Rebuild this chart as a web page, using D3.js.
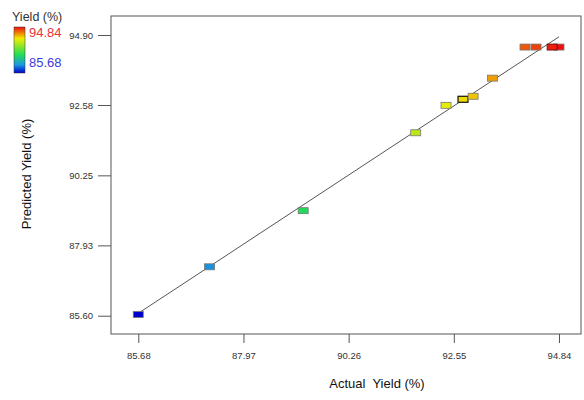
<!DOCTYPE html>
<html>
<head>
<meta charset="utf-8">
<script src="https://cdn.jsdelivr.net/npm/d3@7"></script>
<style>
  body { margin: 0; background: #fff; }
  svg { font-family: "Liberation Sans", Arial, sans-serif; }
</style>
</head>
<body>
<div id="chart"></div>
<script>
// data
const actual    = [85.68, 87.23, 89.27, 91.72, 92.38, 92.75, 92.97, 93.39, 94.10, 94.34, 94.84, 94.69];
const predicted = [85.64, 87.22, 89.08, 91.66, 92.57, 92.77, 92.87, 93.47, 94.50, 94.50, 94.50, 94.50];
const xTicks = [85.68, 87.97, 90.26, 92.55, 94.84];
const yTicks = [85.60, 87.93, 90.25, 92.58, 94.90];
const yieldMin = 85.68, yieldMax = 94.84;

const width = 584, height = 400;
const plot = { left: 111, right: 581, top: 16, bottom: 334 };

const svg = d3.select("#chart").append("svg")
    .attr("width", width)
    .attr("height", height);

const x = d3.scaleLinear().domain([85.086, 95.319]).range([plot.left, plot.right]);
const y = d3.scaleLinear().domain([84.994, 95.529]).range([plot.bottom, plot.top]);

// colour map blue -> light blue -> green -> yellow -> red
const colorPos = [0, 0.18, 0.4, 0.75, 1];
const colorStops = ["#0000cc", "#1a9be0", "#22dd55", "#eeee00", "#ee1010"];
const color = d3.scaleLinear()
    .domain(colorPos.map(t => yieldMin + t * (yieldMax - yieldMin)))
    .range(colorStops);

// frame
svg.append("rect")
    .attr("x", plot.left).attr("y", plot.top)
    .attr("width", plot.right - plot.left).attr("height", plot.bottom - plot.top)
    .attr("fill", "none").attr("stroke", "#555").attr("stroke-width", 1);

// axes
const xAxis = svg.append("g")
    .attr("transform", `translate(0,${plot.bottom})`)
    .call(d3.axisBottom(x).tickValues(xTicks).tickSize(9).tickFormat(d3.format(".2f")));
xAxis.select(".domain").remove();
xAxis.selectAll("line").attr("stroke", "#555");
xAxis.selectAll("text").attr("font-size", "9.5px").attr("fill", "#333").attr("dy", "1.4em");

const yAxis = svg.append("g")
    .attr("transform", `translate(${plot.left},0)`)
    .call(d3.axisLeft(y).tickValues(yTicks).tickSize(13).tickPadding(5).tickFormat(d3.format(".2f")));
yAxis.select(".domain").remove();
yAxis.selectAll("line").attr("stroke", "#555");
yAxis.selectAll("text").attr("font-size", "9.5px").attr("fill", "#333");

// axis titles
svg.append("text")
    .attr("x", 377).attr("y", 388)
    .attr("text-anchor", "middle")
    .attr("font-size", "13px").attr("fill", "#111")
    .attr("xml:space", "preserve")
    .text("Actual  Yield (%)");

svg.append("text")
    .attr("transform", "translate(31,174) rotate(-90)")
    .attr("text-anchor", "middle")
    .attr("font-size", "13px").attr("fill", "#111")
    .text("Predicted Yield (%)");

// y = x reference line
svg.append("line")
    .attr("x1", x(yieldMin)).attr("y1", y(yieldMin))
    .attr("x2", x(yieldMax)).attr("y2", y(yieldMax))
    .attr("stroke", "#555").attr("stroke-width", 1);

// points (small rectangles)
const pts = actual.map((a, i) => ({ a, p: predicted[i], i }));
svg.selectAll(".pt")
    .data(pts)
    .enter().append("rect")
    .attr("class", "pt")
    .attr("x", d => x(d.a) - 5)
    .attr("y", d => y(d.p) - 3)
    .attr("width", 10).attr("height", 6)
    .attr("fill", d => color(d.a))
    .attr("stroke", d => d.i === 5 ? "#111" : d.i === 11 ? "#5a0a0a" : "#777")
    .attr("stroke-width", d => d.i === 5 ? 1.2 : 0.8);

// legend
svg.append("text")
    .attr("x", 12).attr("y", 21)
    .attr("font-size", "12.5px").attr("fill", "#333")
    .text("Yield (%)");

const grad = svg.append("defs").append("linearGradient")
    .attr("id", "yieldGrad")
    .attr("x1", 0).attr("y1", 1).attr("x2", 0).attr("y2", 0);
colorStops.forEach((c, i) => {
    grad.append("stop").attr("offset", colorPos[i]).attr("stop-color", c);
});

svg.append("rect")
    .attr("x", 14).attr("y", 27)
    .attr("width", 11).attr("height", 46)
    .attr("fill", "url(#yieldGrad)")
    .attr("stroke", "#333").attr("stroke-width", 0.5);

svg.append("text")
    .attr("x", 29).attr("y", 37)
    .attr("font-size", "13px").attr("fill", "#e8333a")
    .text(yieldMax.toFixed(2));

svg.append("text")
    .attr("x", 29).attr("y", 67)
    .attr("font-size", "13px").attr("fill", "#3c3cd8")
    .text(yieldMin.toFixed(2));
</script>
</body>
</html>
